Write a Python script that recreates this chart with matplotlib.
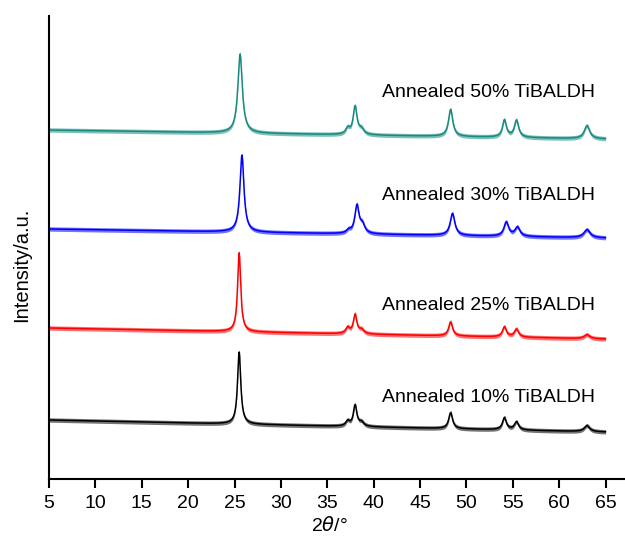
import numpy as np
import matplotlib.pyplot as plt

plt.rcParams['font.family'] = ['Liberation Sans', 'DejaVu Sans']

# Reflections (2theta, degrees) and their heights above background, per sample
labels = ["Annealed 10% TiBALDH", "Annealed 25% TiBALDH",
          "Annealed 30% TiBALDH", "Annealed 50% TiBALDH"]
colors = ["#000000", "#ff0000", "#0000ff", "#178b80"]

centers_10 = [25.5, 37.2, 38.0, 38.7, 48.3, 54.1, 55.4, 63.0]
centers_25 = [25.5, 37.2, 38.0, 38.7, 48.3, 54.1, 55.4, 63.0]
centers_30 = [25.8, 37.3, 38.2, 38.8, 48.5, 54.3, 55.5, 63.0]
centers_50 = [25.6, 37.2, 38.0, 38.7, 48.3, 54.1, 55.4, 63.0]

heights_10 = [72, 5, 21, 4, 16, 12, 8, 6]
heights_25 = [79, 6, 19, 4, 14, 10, 8, 4]
heights_30 = [77, 3, 28, 8, 22, 14, 9, 8]
heights_50 = [79, 6, 28, 5, 27, 17, 17, 13]

widths_10 = [0.42, 0.5, 0.45, 0.6, 0.5, 0.5, 0.55, 0.7]
widths_25 = [0.40, 0.5, 0.45, 0.6, 0.5, 0.5, 0.55, 0.7]
widths_30 = [0.52, 0.5, 0.55, 0.6, 0.6, 0.6, 0.65, 0.8]
widths_50 = [0.58, 0.5, 0.50, 0.6, 0.55, 0.5, 0.55, 0.7]

# background level at 5 and 65 degrees (stacked offsets)
bg_start = [59, 151, 250, 349]
bg_end = [47, 140, 241, 340]

label_y = [82, 174, 284, 387]

centers = [centers_10, centers_25, centers_30, centers_50]
heights = [heights_10, heights_25, heights_30, heights_50]
widths = [widths_10, widths_25, widths_30, widths_50]

tt = np.arange(5, 65.001, 0.02)


def pattern(c, h, w, b0, b1):
    y = b0 + (b1 - b0) * (tt - 5) / 60
    for ci, hi, wi in zip(c, h, w):
        g = wi / 2
        y = y + hi * g**2 / ((tt - ci)**2 + g**2)
    return y


fig = plt.figure(figsize=(6.25, 5.41), dpi=100)
ax = fig.add_axes([0.0784, 0.1146, 0.9216, 0.8558])

for i in range(4):
    y = pattern(centers[i], heights[i], widths[i], bg_start[i], bg_end[i])
    ax.fill_between(tt, y - 2.2, y + 2.2, color=colors[i], alpha=0.55, lw=0)
    ax.plot(tt, y, color=colors[i], lw=1.1)
    ax.text(40.9, label_y[i], labels[i], fontsize=14, va='center', ha='left')

ax.set_xlim(5, 67.1)
ax.set_ylim(0, 463)
ax.set_xticks(range(5, 66, 5))
ax.set_yticks([])
ax.spines['top'].set_visible(False)
ax.spines['right'].set_visible(False)
ax.spines['left'].set_linewidth(1.5)
ax.spines['bottom'].set_linewidth(1.5)
ax.tick_params(axis='x', direction='out', length=6.5, width=1.5,
               labelsize=14, pad=5)
ax.set_xlabel(r"2$\theta$/°", fontsize=14, va='top')
ax.xaxis.set_label_coords(0.486, -0.079)
ax.set_ylabel("Intensity/a.u.", fontsize=14.5, va='center')
ax.yaxis.set_label_coords(-0.047, 0.462)

fig.savefig("out.png", dpi=100)
